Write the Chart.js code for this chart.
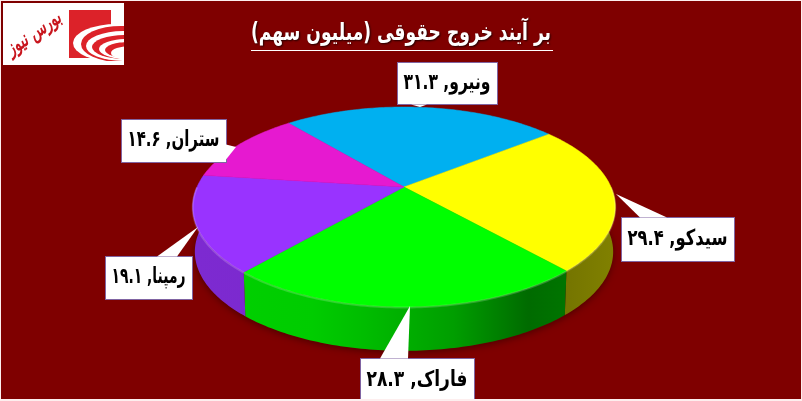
<!DOCTYPE html>
<html>
<head>
<meta charset="utf-8">
<script src="https://cdn.jsdelivr.net/npm/chart.js@4/dist/chart.umd.min.js"></script>
<style>
html, body { margin: 0; padding: 0; background: #fdeeee; }
#wrap { position: absolute; left: 1px; top: 1px; width: 800px; height: 398px; }
</style>
</head>
<body>
<div id="wrap"><canvas id="pie"></canvas></div>
<script>
// Chart data
const categories = ['ونیرو', 'سیدکو', 'فاراک', 'رمپنا', 'ستران'];
const values = [31.3, 29.4, 28.3, 19.1, 14.6];
const sliceColors = ['#00b0f0', '#ffff00', '#00ff00', '#9933ff', '#e619d0'];
const chartTitle = 'بر آیند خروج حقوقی (میلیون سهم)';
const logoText = 'بورس نیوز';

// Callout boxes, same order as categories: box x,y,w,h, pointer base x1,y1,x2,y2, tip x,y
const callouts = [
    { box: [396, 61, 100, 42], base: [410, 103, 426, 103], tip: [419, 106] },
    { box: [620, 216, 113, 44], base: [639, 216, 666, 216], tip: [615, 193] },
    { box: [359, 357, 114, 44], base: [379, 357, 407, 357], tip: [409, 305] },
    { box: [104, 255, 87, 43], base: [156, 255, 176, 255], tip: [197, 226] },
    { box: [120, 118, 105, 43], base: [225, 143, 225, 158], tip: [235, 146] }
];

// Pie projection, flat circle -> screen with a little perspective
const pieX = 403, pieY = 186, pieR = 207, pieRy = 96, pieP = 0.2, pieDepth = 45;

function project(angle, scale, dy) {
    const u = Math.cos(angle), v = Math.sin(angle);
    const s = 1 / (1 - pieP * v);
    return { x: pieX + pieR * scale * u * s, y: pieY + dy + pieRy * scale * v * s };
}

function toPersianDigits(n) {
    return String(n).replace(/\d/g, d => '۰۱۲۳۴۵۶۷۸۹'[d]);
}

function shade(hex, f) {
    const n = parseInt(hex.slice(1), 16);
    const c = [n >> 16, (n >> 8) & 255, n & 255].map(v => Math.round(v * f));
    return `rgb(${c[0]},${c[1]},${c[2]})`;
}

function arcPoints(start, end, scale, dy) {
    const pts = [];
    const steps = Math.max(2, Math.ceil((end - start) * 60));
    for (let i = 0; i <= steps; i++) {
        pts.push(project(start + (end - start) * i / steps, scale, dy));
    }
    return pts;
}

function drawWalls(ctx, arcs) {
    // ground shadow under the pie
    ctx.save();
    ctx.shadowColor = 'rgba(40,0,0,0.55)';
    ctx.shadowBlur = 7;
    ctx.shadowOffsetY = 2;
    ctx.fillStyle = '#6e0000';
    ctx.beginPath();
    arcPoints(0, Math.PI * 2, 0.99, pieDepth).forEach((p, i) => i ? ctx.lineTo(p.x, p.y) : ctx.moveTo(p.x, p.y));
    ctx.closePath();
    ctx.fill();
    ctx.restore();

    arcs.forEach((arc, i) => {
        // only the part facing the viewer has a wall
        for (let k = -1; k <= 1; k++) {
            const from = Math.max(arc.startAngle, 2 * Math.PI * k + 0);
            const to = Math.min(arc.endAngle, 2 * Math.PI * k + Math.PI);
            if (to <= from) continue;
            const top = arcPoints(from, to, 1, 0);
            const bottom = arcPoints(from, to, 0.99, pieDepth);
            const grad = ctx.createLinearGradient(pieX - pieR, 0, pieX + pieR, 0);
            const c = sliceColors[i];
            grad.addColorStop(0, shade(c, 0.82));
            grad.addColorStop(0.28, shade(c, 0.8));
            grad.addColorStop(0.4, shade(c, 0.74));
            grad.addColorStop(0.62, shade(c, 0.62));
            grad.addColorStop(0.8, shade(c, 0.42));
            grad.addColorStop(1, shade(c, 0.5));
            ctx.fillStyle = grad;
            ctx.beginPath();
            top.forEach((p, j) => j ? ctx.lineTo(p.x, p.y) : ctx.moveTo(p.x, p.y));
            bottom.reverse().forEach(p => ctx.lineTo(p.x, p.y));
            ctx.closePath();
            ctx.fill();
        }
    });
}

function drawFaces(ctx, arcs) {
    const center = project(0, 0, 0);
    arcs.forEach((arc, i) => {
        const pts = arcPoints(arc.startAngle, arc.endAngle, 1, 0);
        ctx.fillStyle = sliceColors[i];
        ctx.strokeStyle = sliceColors[i];
        ctx.lineWidth = 0.5;
        ctx.beginPath();
        ctx.moveTo(center.x, center.y);
        pts.forEach(p => ctx.lineTo(p.x, p.y));
        ctx.closePath();
        ctx.fill();
        ctx.stroke();
    });
    // soft bevel on the front rim
    arcs.forEach((arc, i) => {
        const from = Math.max(arc.startAngle, 0), to = Math.min(arc.endAngle, Math.PI);
        if (to <= from) return;
        ctx.strokeStyle = 'rgba(255,255,255,0.18)';
        ctx.lineWidth = 2;
        ctx.beginPath();
        arcPoints(from, to, 1, 0.5).forEach((p, j) => j ? ctx.lineTo(p.x, p.y) : ctx.moveTo(p.x, p.y));
        ctx.stroke();
    });
}

function drawCallouts(ctx) {
    ctx.font = 'bold 22px "DejaVu Sans"';
    ctx.textBaseline = 'middle';
    ctx.textAlign = 'center';
    ctx.direction = 'rtl';
    callouts.forEach((c, i) => {
        const [x, y, w, h] = c.box;
        ctx.fillStyle = '#ffffff';
        ctx.strokeStyle = '#8064a2';
        ctx.lineWidth = 1;
        ctx.fillRect(x, y, w, h);
        ctx.strokeRect(x + 0.5, y + 0.5, w, h);
        ctx.beginPath();
        ctx.moveTo(c.base[0], c.base[1] + 0.5);
        ctx.lineTo(c.tip[0], c.tip[1]);
        ctx.lineTo(c.base[2], c.base[3] + 0.5);
        ctx.fill();
        ctx.fillStyle = '#000000';
        ctx.fillText(categories[i] + ', ' + toPersianDigits(values[i]), x + w / 2, y + h / 2, w - 13);
    });
    ctx.direction = 'ltr';
}

function drawLogo(ctx) {
    ctx.fillStyle = '#ffffff';
    ctx.fillRect(2, 2, 121, 62);
    ctx.save();
    ctx.beginPath();
    ctx.rect(60, 4, 63, 56);
    ctx.clip();
    // red square
    ctx.fillStyle = '#dc2229';
    ctx.fillRect(68, 9, 42, 48);
    // concentric swooshes, white and red in turn
    const swoosh = [
        [116, 42, 44, 19, '#ffffff'],
        [120, 43, 40, 18, '#dc2229'],
        [122, 45, 37, 15, '#ffffff'],
        [124, 46, 33, 12, '#dc2229'],
        [126, 48, 28, 10, '#ffffff'],
        [128, 49, 24, 8, '#dc2229'],
        [130, 52, 20, 7, '#ffffff']
    ];
    swoosh.forEach(s => {
        ctx.fillStyle = s[4];
        ctx.beginPath();
        ctx.ellipse(s[0], s[1], s[2], s[3], 0, 0, Math.PI * 2);
        ctx.fill();
    });
    ctx.restore();
    ctx.save();
    ctx.translate(33, 33);
    ctx.rotate(-0.6);
    ctx.fillStyle = '#c8161e';
    ctx.font = 'italic bold 20px "DejaVu Sans"';
    ctx.textAlign = 'center';
    ctx.textBaseline = 'middle';
    ctx.direction = 'rtl';
    ctx.fillText(logoText, 0, 0, 62);
    ctx.restore();
}

function drawTitle(ctx) {
    ctx.save();
    ctx.font = 'bold 24px "DejaVu Sans"';
    ctx.textAlign = 'center';
    ctx.textBaseline = 'middle';
    ctx.direction = 'rtl';
    ctx.shadowColor = 'rgba(0,0,0,0.7)';
    ctx.shadowBlur = 2;
    ctx.shadowOffsetX = 1;
    ctx.shadowOffsetY = 1;
    ctx.fillStyle = '#ffffff';
    ctx.fillText(chartTitle, 400, 33, 300);
    ctx.restore();
    ctx.fillStyle = '#ffffff';
    ctx.fillRect(250, 49, 302, 1);
}

// Draws the flat pie elements of the library as a 3D pie
const pie3d = {
    id: 'pie3d',
    beforeDatasetDraw(chart) {
        const ctx = chart.ctx;
        const arcs = chart.getDatasetMeta(0).data;
        drawWalls(ctx, arcs);
        drawFaces(ctx, arcs);
        return false;
    },
    afterDraw(chart) {
        const ctx = chart.ctx;
        drawTitle(ctx);
        drawLogo(ctx);
        drawCallouts(ctx);
    }
};

new Chart(document.getElementById('pie'), {
    type: 'pie',
    data: {
        labels: categories,
        datasets: [{ data: values, backgroundColor: sliceColors, borderWidth: 0 }]
    },
    options: {
        responsive: true,
        maintainAspectRatio: false,
        animation: false,
        rotation: -40,
        plugins: {
            legend: { display: false },
            tooltip: { enabled: false },
            title: { display: false }
        }
    },
    plugins: [{
        id: 'background',
        beforeDraw(chart) {
            chart.ctx.fillStyle = '#7f0000';
            chart.ctx.fillRect(0, 0, chart.width, chart.height);
        }
    }, pie3d]
});
</script>
</body>
</html>
